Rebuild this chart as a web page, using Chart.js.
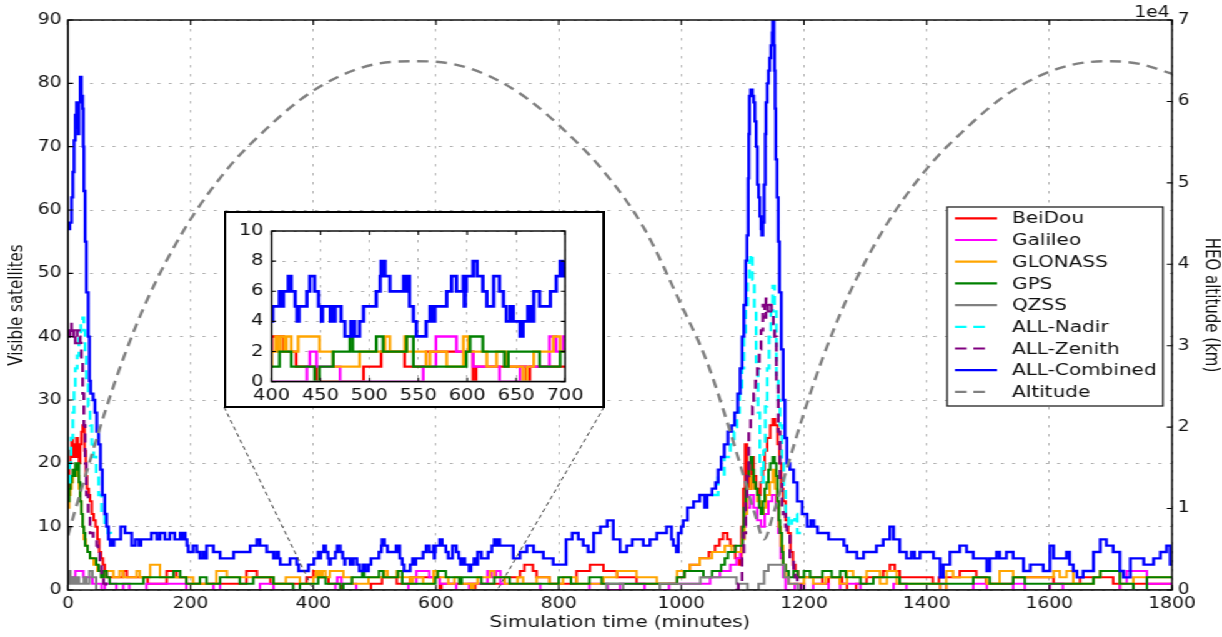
<!DOCTYPE html>
<html>
<head>
<meta charset="utf-8">
<script src="https://cdn.jsdelivr.net/npm/chart.js@4.4.1/dist/chart.umd.min.js"></script>
<style>
  html, body { margin: 0; padding: 0; background: #fff; overflow: hidden; }
  /* the reference figure is stretched sideways, so the whole stage is too */
  #stage { position: absolute; left: 0; top: 0; width: 978px; height: 637px;
           transform: scaleX(1.2495); transform-origin: 0 0; }
  #main { position: absolute; left: 0; top: 0; }
  #inset { position: absolute; left: 179px; top: 211px; }
</style>
</head>
<body>
<div id="stage">
  <canvas id="main" width="978" height="637"></canvas>
  <canvas id="inset" width="305" height="197"></canvas>
</div>
<script>
// step series: [minute, visible satellites], value holds until the next point
const beidou = [[0,15],[2,20],[4,22],[6,24],[8,21],[10,23],[12,21],[14,24],[16,22],[18,20],[20,23],[22,25],[24,26],[27,22],[29,18],[31,16],[34,15],[36,14],[39,12],[42,11],[45,10],[48,8],[51,6],[54,5],[57,4],[60,3],[63,2],[90,3],[96,2],[130,1],[161,3],[177,2],[193,1],[291,3],[308,2],[330,1],[389,2],
  [400,3],[412,2],[425,1],[446,0],[494,1],[512,2],[536,1],[558,2],[606,0],[609,1],[660,0],[664,1],
  [712,2],[737,3],[744,4],[758,3],[764,2],[785,1],[829,3],[851,4],[873,3],[895,2],[927,1],[993,2],[1005,3],[1014,4],[1030,5],[1045,6],[1055,7],[1062,8],[1068,9],[1075,8],[1080,7],[1088,5],[1094,4],[1098,10],[1101,16],[1104,23],[1107,18],[1110,16],[1114,21],[1118,18],[1122,16],[1125,15],[1129,17],[1133,19],[1136,22],[1140,24],[1145,26],[1149,27],[1153,26],[1157,23],[1160,20],[1163,16],[1166,14],[1170,11],[1174,9],[1178,6],[1182,4],[1186,3],[1190,2],[1230,1],[1240,2],[1262,1],[1270,0],[1285,1],[1302,2],[1329,3],[1340,4],[1348,3],[1356,2],[1410,1],[1420,2],[1454,3],[1481,2],[1497,1],[1541,2],[1607,1],[1650,2],[1704,1],[1715,0],[1737,1],[1800,1]];

const galileo = [[0,2],[12,3],[25,2],[40,1],[55,0],[60,1],[79,0],[90,1],[100,0],[128,1],[193,0],[237,1],[248,0],[313,1],[335,0],
  [436,1],[439,2],[446,1],[470,0],[555,1],[568,3],[589,2],[606,1],[633,0],[654,1],[684,3],[691,2],[698,3],
  [705,1],[770,0],[850,1],[880,0],[900,1],[940,0],[980,1],[1047,2],[1063,3],[1080,4],[1090,5],[1096,6],[1100,10],[1105,13],[1112,15],[1118,13],[1124,11],[1130,10],[1136,12],[1142,14],[1148,15],[1154,13],[1158,9],[1162,5],[1166,2],[1170,0],[1185,1],[1200,0],[1215,1],[1240,0],[1259,1],[1292,0],[1346,1],[1367,0],[1422,1],[1432,0],[1476,1],[1498,0],[1541,1],[1560,0],[1601,1],[1622,0],[1715,1],[1726,3],[1759,1],[1800,1]];

const glonass = [[0,13],[2,15],[4,16],[6,17],[8,18],[10,19],[12,18],[14,19],[16,18],[18,16],[20,14],[22,12],[24,10],[26,8],[29,7],[32,6],[36,5],[42,4],[48,3],[54,2],[58,3],[74,2],[84,3],[90,2],[112,3],[117,2],[134,4],[150,2],[204,1],[242,3],[259,2],[335,1],[355,2],[378,1],
  [400,2],[404,3],[406,2],[409,3],[413,2],[415,3],[420,2],[427,3],[449,2],[463,1],[490,2],[516,3],[521,2],[536,3],[538,2],[558,1],[562,2],[579,1],[596,3],[601,2],[620,1],[630,2],[640,1],[657,0],[661,1],[668,2],[688,3],[695,2],
  [712,1],[733,2],[742,1],[764,2],[785,1],[807,2],[829,1],[873,2],[895,3],[927,2],[960,1],[993,3],[1014,4],[1030,5],[1050,6],[1071,7],[1082,6],[1099,8],[1103,12],[1107,16],[1113,18],[1118,16],[1124,14],[1130,12],[1134,13],[1138,15],[1144,17],[1149,19],[1153,16],[1156,14],[1159,10],[1162,7],[1166,4],[1170,2],[1175,1],[1200,2],[1215,1],[1235,2],[1258,1],[1270,3],[1280,2],[1302,3],[1324,1],[1335,3],[1351,1],[1422,0],[1432,3],[1443,2],[1498,1],[1519,3],[1541,2],[1607,3],[1617,2],[1628,3],[1639,1],[1672,2],[1683,3],[1715,1],[1737,2],[1800,2]];

const gps = [[0,14],[2,16],[4,17],[6,18],[8,19],[10,18],[12,20],[14,19],[16,20],[18,17],[20,14],[22,12],[24,10],[26,9],[28,7],[32,6],[36,5],[46,4],[50,3],[54,2],[58,3],[63,2],[68,1],[123,2],[172,3],[183,2],[193,1],[215,2],[226,1],[248,2],[280,1],[302,2],[335,1],[367,0],[378,1],
  [408,2],[420,1],[444,0],[449,1],[463,2],[480,3],[483,2],[507,3],[514,2],[538,3],[545,1],[599,2],[603,3],[616,2],[638,1],[642,2],[674,1],[695,2],
  [720,1],[800,2],[820,1],[850,2],[870,1],[993,2],[1005,3],[1036,2],[1050,3],[1065,4],[1071,5],[1076,6],[1088,7],[1100,10],[1102,13],[1105,16],[1107,18],[1110,20],[1113,21],[1116,19],[1118,17],[1121,16],[1124,15],[1127,13],[1130,12],[1133,14],[1136,16],[1139,17],[1142,19],[1145,20],[1149,21],[1152,20],[1155,18],[1157,14],[1159,11],[1161,9],[1164,6],[1166,4],[1170,3],[1175,2],[1183,3],[1190,2],[1200,3],[1210,2],[1230,3],[1245,2],[1259,3],[1268,2],[1292,1],[1313,2],[1356,1],[1476,2],[1503,1],[1541,2],[1560,1],[1672,2],[1683,3],[1715,1],[1737,0],[1759,2],[1800,2]];

const qzss = [[0,1],[2,3],[4,1],[7,2],[10,1],[14,2],[18,1],[26,2],[30,1],[35,3],[40,2],[46,0],[878,1],[905,0],[965,1],[1031,2],[1090,1],[1108,0],[1126,1],[1135,3],[1142,4],[1168,2],[1175,1],[1190,0],[1800,0]];

const nadirEarly = [[0,17],[3,20],[5,24],[8,28],[10,32],[12,35],[15,37],[18,40],[21,42],[24,43],[26,41],[28,37],[30,33],[33,29],[36,26],[39,23],[42,21],[46,18],[50,15],[55,12],[60,10],[65,9],[70,8]];
const nadirPeak = [[1050,15],[1060,18],[1070,21],[1080,23],[1086,25],[1091,28],[1095,31],[1099,35],[1102,40],[1105,45],[1108,49],[1111,52],[1113,53],[1116,49],[1119,44],[1122,36],[1125,28],[1128,20],[1131,17],[1134,22],[1137,29],[1140,35],[1143,40],[1146,44],[1149,48],[1152,44],[1155,33],[1158,30],[1161,26],[1164,20],[1167,16],[1170,12],[1175,10],[1180,11],[1185,12],[1189,9],[1195,9]];

const zenithEarly = [[0,40],[3,42],[6,40],[9,41],[12,39],[15,41],[18,40],[20,39],[22,36],[24,31],[26,26],[28,20],[30,15],[33,12],[36,9],[41,8],[47,7],[49,6],[52,4],[55,2],[58,1],[62,0]];
const zenithPeak = [[1088,0],[1093,1],[1099,5],[1102,9],[1105,14],[1107,18],[1110,25],[1113,27],[1116,29],[1118,31],[1121,33],[1124,35],[1127,38],[1130,41],[1133,45],[1136,43],[1138,46],[1141,44],[1144,45],[1147,44],[1150,42],[1152,40],[1155,33],[1158,25],[1161,17],[1164,13],[1166,12],[1170,10],[1172,9],[1177,5],[1183,3],[1186,2],[1189,1],[1195,0]];

const combined = [[0,57],[3,58],[6,62],[8,66],[10,71],[12,75],[14,77],[16,73],[17,72],[18,77],[20,81],[22,78],[24,76],[25,70],[26,63],[28,55],[30,47],[33,40],[35,33],[37,31],[41,30],[44,28],[47,25],[50,23],[53,19],[56,15],[60,12],[63,10],[66,8],[69,7],[71,8],[73,7],[75,8],[86,10],[93,9],[104,7],[110,8],[116,7],[119,8],[136,9],[145,8],[150,9],[158,8],[166,9],[174,8],[183,9],[186,8],[189,9],[191,8],[194,7],[196,6],[204,7],[210,6],[215,5],[220,6],[224,5],[226,7],[237,6],[248,5],[270,6],[297,7],[308,8],[313,7],[324,6],[335,5],[340,6],[343,5],[346,4],[362,5],[373,4],[376,3],[392,4],
  [401,5],[408,6],[409,5],[410,6],[411,5],[412,6],[417,7],[420,6],[424,5],[426,4],[428,5],[436,6],[439,7],[444,6],[448,5],[451,4],[452,5],[460,4],[462,5],[463,4],[465,5],[471,4],[475,3],[481,4],[483,3],[484,4],[485,3],[490,4],[494,5],[507,6],[511,7],[512,8],[513,7],[514,8],[516,7],[521,6],[535,7],[537,6],[538,7],[541,5],[545,4],[548,3],[558,4],[562,5],[565,4],[567,5],[579,6],[584,7],[589,6],[596,7],[597,5],[598,6],[599,7],[606,8],[610,7],[616,6],[620,5],[627,7],[633,6],[637,5],[640,4],[644,5],[647,4],[654,3],[657,4],[662,5],[663,4],[665,5],[666,4],[668,6],[674,5],[685,6],[691,7],[695,8],[697,7],
  [700,8],[704,7],[726,5],[737,6],[748,7],[759,6],[775,5],[791,4],[812,8],[822,9],[832,8],[840,7],[848,6],[857,9],[868,10],[879,11],[889,8],[900,6],[911,7],[920,8],[938,7],[949,8],[960,9],[976,10],[984,8],[987,7],[992,6],[995,9],[1000,10],[1003,11],[1010,13],[1020,14],[1030,15],[1038,13],[1042,15],[1050,16],[1056,17],[1060,19],[1065,21],[1070,23],[1076,25],[1082,26],[1087,28],[1092,31],[1096,35],[1099,40],[1102,45],[1105,52],[1107,56],[1109,65],[1110,72],[1111,78],[1113,79],[1116,78],[1118,77],[1120,74],[1122,70],[1124,64],[1126,62],[1128,59],[1130,57],[1131,56],[1133,58],[1135,64],[1137,72],[1138,77],[1140,80],[1142,82],[1144,84],[1146,86],[1148,88],[1149,90],[1151,86],[1152,82],[1153,76],[1154,68],[1156,62],[1158,55],[1160,47],[1163,38],[1166,30],[1169,24],[1172,20],[1177,19],[1183,17],[1189,14],[1197,12],[1205,10],[1211,11],[1216,10],[1222,9],[1240,8],[1265,7],[1270,6],[1286,5],[1297,6],[1318,7],[1329,8],[1340,10],[1346,8],[1356,6],[1367,5],[1375,6],[1380,5],[1389,6],[1411,5],[1422,2],[1427,4],[1438,6],[1454,7],[1465,6],[1476,5],[1498,3],[1503,5],[1514,6],[1519,5],[1530,6],[1541,5],[1558,3],[1569,4],[1590,3],[1601,7],[1607,5],[1628,6],[1633,4],[1639,3],[1645,2],[1655,3],[1672,6],[1683,8],[1693,7],[1704,6],[1715,3],[1721,2],[1732,5],[1754,4],[1770,5],[1781,6],[1791,7],[1797,4],[1800,4]];

// HEO altitude [minute, km]
const altitudeKm = [[0,6700],[10,9330],[30,14390],[60,21780],[90,28390],[130,35780],[190,44330],[260,51720],[320,56390],[380,60280],[440,63000],[500,64560],[560,64940],[630,64560],[690,63000],[750,60280],[810,56390],[870,51720],[940,44330],[1000,35000],[1040,28390],[1070,21780],[1100,14390],[1120,9330],[1135,6220],[1150,9330],[1170,14390],[1200,21780],[1230,28390],[1270,35780],[1330,44330],[1400,51720],[1460,56390],[1520,60280],[1580,63000],[1640,64560],[1700,64940],[1750,64560],[1800,63390]];

const insetRange = [400, 700];

function pts(pairs) {
  return pairs.map(p => ({x: p[0], y: p[1]}));
}
function twoWindows(a, b) {
  const gap = (a[a.length - 1][0] + b[0][0]) / 2;
  return pts(a).concat([{x: gap, y: null}], pts(b));
}

Chart.defaults.font.family = "'DejaVu Sans', sans-serif";
Chart.defaults.color = '#111';

function makeDatasets(withAltitude, scale) {
  const w = scale || 1;
  const ds = [
    {label: 'BeiDou', data: pts(beidou), borderColor: '#ff0000', borderWidth: 2 * w, stepped: true},
    {label: 'Galileo', data: pts(galileo), borderColor: '#ff00ff', borderWidth: 2 * w, stepped: true},
    {label: 'GLONASS', data: pts(glonass), borderColor: '#ffa500', borderWidth: 2 * w, stepped: true},
    {label: 'GPS', data: pts(gps), borderColor: '#008000', borderWidth: 2 * w, stepped: true},
    {label: 'QZSS', data: pts(qzss), borderColor: '#808080', borderWidth: 2 * w, stepped: true},
    {label: 'ALL-Nadir', data: twoWindows(nadirEarly, nadirPeak), borderColor: '#00ffff', borderWidth: 2.3, borderDash: [9, 5.5], stepped: true},
    {label: 'ALL-Zenith', data: twoWindows(zenithEarly, zenithPeak), borderColor: '#800080', borderWidth: 2.3, borderDash: [9, 5.5], stepped: true},
    {label: 'ALL-Combined', data: pts(combined), borderColor: '#0000ff', borderWidth: 2.4 * w, stepped: true}
  ];
  if (withAltitude) {
    ds.push({label: 'Altitude', data: pts(altitudeKm), yAxisID: 'y2', borderColor: '#808080',
             borderWidth: 2.4, borderDash: [9, 6], cubicInterpolationMode: 'monotone'});
  }
  // first legend entry at the bottom, last one on top
  ds.forEach((d, i) => { d.order = 20 - i; d.pointRadius = 0; d.fill = false; });
  return ds;
}

// matplotlib-like inward ticks and black frame
const innerTicks = {
  id: 'innerTicks',
  afterDraw(chart, args, opts) {
    const {ctx, chartArea: a, scales} = chart;
    ctx.save();
    ctx.strokeStyle = '#000';
    ctx.lineWidth = 1.1;
    ctx.beginPath();
    scales.x.ticks.forEach(t => {
      const px = scales.x.getPixelForValue(t.value);
      ctx.moveTo(px, a.bottom); ctx.lineTo(px, a.bottom - opts.len);
      ctx.moveTo(px, a.top); ctx.lineTo(px, a.top + opts.len);
    });
    scales.y.ticks.forEach(t => {
      const py = scales.y.getPixelForValue(t.value);
      ctx.moveTo(a.left, py); ctx.lineTo(a.left + opts.lenX, py);
      if (!scales.y2) { ctx.moveTo(a.right, py); ctx.lineTo(a.right - opts.lenX, py); }
    });
    if (scales.y2) {
      scales.y2.ticks.forEach(t => {
        const py = scales.y2.getPixelForValue(t.value);
        ctx.moveTo(a.right, py); ctx.lineTo(a.right - opts.lenX, py);
      });
    }
    ctx.stroke();
    ctx.lineWidth = opts.frame;
    ctx.strokeRect(a.left, a.top, a.right - a.left, a.bottom - a.top);
    ctx.restore();
  }
};

// inset position on the main canvas (stage units)
const insetBox = {left: 179.3, top: 212, right: 483.4, bottom: 407};

const mainExtras = {
  id: 'mainExtras',
  afterDraw(chart) {
    const {ctx, scales} = chart;
    ctx.save();
    // connector lines from the inset to the zoomed span
    ctx.strokeStyle = '#444';
    ctx.lineWidth = 1;
    ctx.setLineDash([4, 3]);
    ctx.beginPath();
    ctx.moveTo(insetBox.left, insetBox.bottom);
    ctx.lineTo(scales.x.getPixelForValue(insetRange[0]), scales.y.getPixelForValue(0));
    ctx.moveTo(insetBox.right, insetBox.bottom);
    ctx.lineTo(scales.x.getPixelForValue(insetRange[1]), scales.y.getPixelForValue(0));
    ctx.stroke();
    ctx.setLineDash([]);

    // offset text of the right axis
    ctx.fillStyle = '#111';
    ctx.font = "15px 'DejaVu Sans'";
    ctx.textAlign = 'right';
    ctx.textBaseline = 'middle';
    ctx.fillText('1e4', 936, 13);

    // legend
    const L = {left: 758, top: 207, right: 930.7, bottom: 406, row0: 218.3, gap: 21.7, x0: 764.3, x1: 798, tx: 810};
    ctx.fillStyle = '#fff';
    ctx.fillRect(L.left, L.top, L.right - L.left, L.bottom - L.top);
    ctx.strokeStyle = '#222';
    ctx.lineWidth = 1.3;
    ctx.strokeRect(L.left, L.top, L.right - L.left, L.bottom - L.top);
    chart.data.datasets.forEach((d, i) => {
      const y = L.row0 + i * L.gap;
      ctx.strokeStyle = d.borderColor;
      ctx.lineWidth = 2.2;
      ctx.beginPath();
      if (d.borderDash) {
        ctx.setLineDash([9.3, 5.4]);
        ctx.moveTo(L.x0, y); ctx.lineTo(L.x0 + 24, y);
      } else {
        ctx.setLineDash([]);
        ctx.moveTo(L.x0, y); ctx.lineTo(L.x1, y);
      }
      ctx.stroke();
      ctx.setLineDash([]);
      ctx.fillStyle = '#111';
      ctx.font = "16px 'DejaVu Sans'";
      ctx.textAlign = 'left';
      ctx.fillText(d.label, L.tx, y + 1);
    });
    ctx.restore();
  }
};

const gridStyle = {color: 'rgba(0,0,0,0.3)', drawTicks: false, lineWidth: 1};
const plainNum = v => String(v);

new Chart(document.getElementById('main'), {
  type: 'line',
  data: {datasets: makeDatasets(true)},
  options: {
    responsive: false,
    animation: false,
    layout: {padding: {top: 20, left: 0, right: 0, bottom: 0}},
    plugins: {legend: {display: false}, tooltip: {enabled: false},
              innerTicks: {len: 5, lenX: 4.2, frame: 1.4}},
    scales: {
      x: {
        type: 'linear', min: 0, max: 1800,
        ticks: {stepSize: 200, padding: 5, autoSkip: false, maxRotation: 0, font: {size: 15}, callback: plainNum},
        grid: gridStyle,
        border: {display: false, dash: [2.5, 6.5]},
        title: {display: true, text: 'Simulation time (minutes)', font: {size: 16}, padding: {top: 0, bottom: 4.4}},
        afterFit: s => { s.height = 47; }
      },
      y: {
        type: 'linear', position: 'left', min: 0, max: 90,
        ticks: {stepSize: 10, padding: 5, font: {size: 15}, callback: plainNum},
        grid: gridStyle,
        border: {display: false, dash: [2.5, 6.5]},
        title: {display: true, text: 'Visible satellites', font: {size: 15}, padding: {top: 5.4, bottom: 0}},
        afterFit: s => { s.width = 54.4; }
      },
      y2: {
        type: 'linear', position: 'right', min: 0, max: 70000,
        ticks: {stepSize: 10000, padding: 4.5, font: {size: 15}, callback: v => String(v / 10000)},
        grid: {display: false, drawTicks: false},
        border: {display: false},
        title: {display: true, text: 'HEO altitude (km)', font: {size: 15}, padding: {top: 0.6, bottom: 0}},
        afterFit: s => { s.width = 40; }
      }
    }
  },
  plugins: [innerTicks, mainExtras]
});

const insetFrame = {
  id: 'insetFrame',
  beforeDraw(chart) {
    const {ctx, width, height} = chart;
    ctx.save();
    ctx.fillStyle = '#fff';
    ctx.fillRect(0, 0, width, height);
    ctx.strokeStyle = '#000';
    ctx.lineWidth = 2;
    ctx.strokeRect(1, 1, width - 2, height - 2);
    ctx.restore();
  }
};

new Chart(document.getElementById('inset'), {
  type: 'line',
  data: {datasets: makeDatasets(false, 1.15)},
  options: {
    responsive: false,
    animation: false,
    layout: {padding: {top: 20, left: 0, right: 31.8, bottom: 0}},
    plugins: {legend: {display: false}, tooltip: {enabled: false},
              innerTicks: {len: 4, lenX: 3.4, frame: 1.4}},
    scales: {
      x: {
        type: 'linear', min: insetRange[0], max: insetRange[1],
        ticks: {stepSize: 50, padding: 5, autoSkip: false, maxRotation: 0, font: {size: 15.5}, callback: plainNum},
        grid: gridStyle,
        border: {display: false, dash: [2.5, 6.5]},
        afterFit: s => { s.height = 26.3; }
      },
      y: {
        type: 'linear', min: 0, max: 10,
        ticks: {stepSize: 2, padding: 6.5, font: {size: 15.5}, callback: plainNum},
        grid: gridStyle,
        border: {display: false, dash: [2.5, 6.5]},
        afterFit: s => { s.width = 38.4; }
      }
    }
  },
  plugins: [insetFrame, innerTicks]
});
</script>
</body>
</html>
